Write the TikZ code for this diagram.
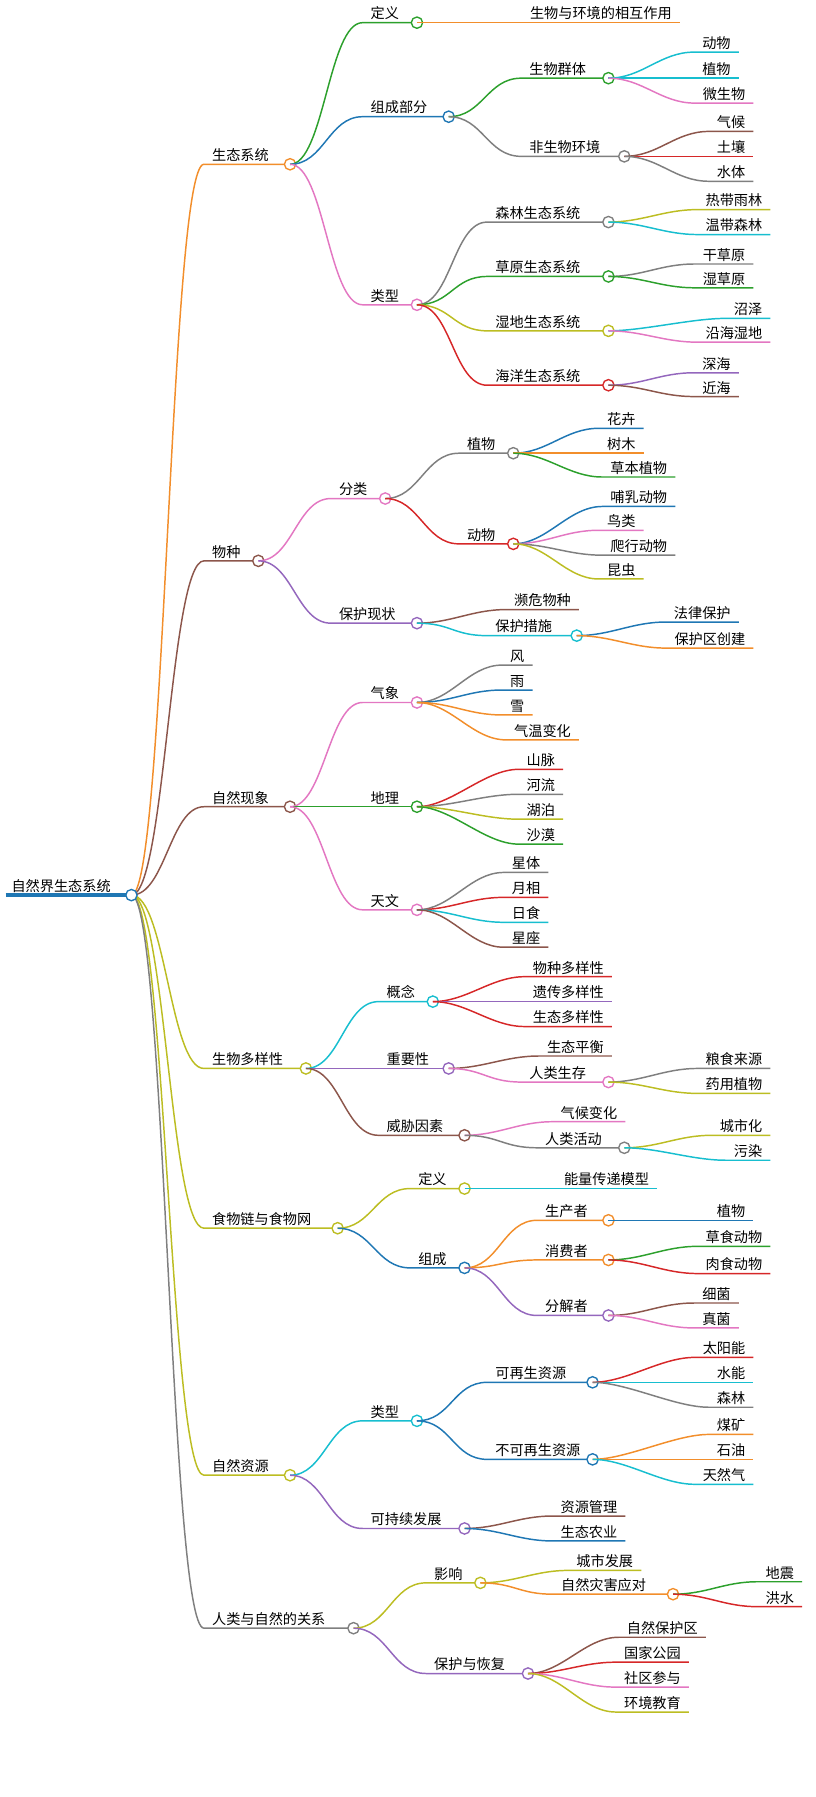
\documentclass[tikz,border=0pt]{standalone}
\usepackage{fontspec}
\setmainfont{Noto Sans CJK SC}
\definecolor{cOra}{RGB}{242,142,43}
\definecolor{cGre}{RGB}{44,160,44}
\definecolor{cBlu}{RGB}{31,119,180}
\definecolor{cPin}{RGB}{227,119,194}
\definecolor{cGra}{RGB}{127,127,127}
\definecolor{cBro}{RGB}{140,86,75}
\definecolor{cRed}{RGB}{214,39,40}
\definecolor{cOli}{RGB}{188,189,34}
\definecolor{cCya}{RGB}{23,190,207}
\definecolor{cPur}{RGB}{148,103,189}
\tikzset{
  lbl/.style={inner xsep=7pt,inner ysep=2pt,font=\fontsize{12.5}{14}\selectfont},
  edge/.style={line width=1.3pt},
  sbend/.style={out=0,in=180,distance=30pt},
  dot/.style={circle,fill=white,line width=1.2pt,minimum size=10pt,inner sep=0pt},
}
% inner node: name, parent, line start, circle x, y, colour, text
\newcommand\inode[7]{%
  \node[lbl,anchor=south west] (#1) at (#3,#5) {#7};
  \coordinate (#1c) at (#4,#5);
  \draw[edge,#6] (#2) to[sbend] (#1.south west) -- (#1c);
  \node[dot,draw=#6] at (#1c) {};}
% leaf: name, parent, line end, y, colour, text
\newcommand\leaf[6]{%
  \node[lbl,anchor=south east] (#1) at (#3,#4) {#6};
  \draw[edge,#5] (#2) to[sbend] (#1.south west) -- (#1.south east);}
\begin{document}
\begin{tikzpicture}[x=1pt,y=-1pt]
\useasboundingbox (0,0) rectangle (720,1586);
% root
\node[lbl,anchor=south west,inner xsep=5pt] (root) at (5,790) {自然界生态系统};
\coordinate (rootc) at (116,790);
\draw[line width=3pt,cBlu] (root.south west) -- (rootc);

% 生态系统
\inode{a}{rootc}{180}{256}{145}{cOra}{生态系统}
\inode{a1}{ac}{320}{368}{20}{cGre}{定义}
\leaf{a1a}{a1c}{600}{20}{cOra}{生物与环境的相互作用}
\inode{a2}{ac}{320}{396}{103}{cBlu}{组成部分}
\inode{a21}{a2c}{460}{537}{69}{cGre}{生物群体}
\leaf{a21a}{a21c}{652}{46}{cCya}{动物}
\leaf{a21b}{a21c}{652}{69}{cCya}{植物}
\leaf{a21c2}{a21c}{665}{91}{cPin}{微生物}
\inode{a22}{a2c}{460}{551}{138}{cGra}{非生物环境}
\leaf{a22a}{a22c}{665}{116}{cBro}{气候}
\leaf{a22b}{a22c}{665}{138}{cRed}{土壤}
\leaf{a22d}{a22c}{665}{160}{cGra}{水体}
\inode{a3}{ac}{320}{368}{269}{cPin}{类型}
\inode{a31}{a3c}{430}{537}{196}{cGra}{森林生态系统}
\leaf{a31a}{a31c}{680}{185}{cOli}{热带雨林}
\leaf{a31b}{a31c}{680}{207}{cCya}{温带森林}
\inode{a32}{a3c}{430}{537}{244}{cGre}{草原生态系统}
\leaf{a32a}{a32c}{665}{233}{cGra}{干草原}
\leaf{a32b}{a32c}{665}{254}{cGre}{湿草原}
\inode{a33}{a3c}{430}{537}{292}{cOli}{湿地生态系统}
\leaf{a33a}{a33c}{680}{281}{cCya}{沼泽}
\leaf{a33b}{a33c}{680}{302}{cPin}{沿海湿地}
\inode{a34}{a3c}{430}{537}{340}{cRed}{海洋生态系统}
\leaf{a34a}{a34c}{652}{329}{cPur}{深海}
\leaf{a34b}{a34c}{652}{350}{cBro}{近海}

% 物种
\inode{b}{rootc}{180}{228}{495}{cBro}{物种}
\inode{b1}{bc}{292}{340}{440}{cPin}{分类}
\inode{b11}{b1c}{405}{453}{400}{cGra}{植物}
\leaf{b11a}{b11c}{568}{378}{cBlu}{花卉}
\leaf{b11b}{b11c}{568}{400}{cOra}{树木}
\leaf{b11d}{b11c}{596}{421}{cGre}{草本植物}
\inode{b12}{b1c}{405}{453}{480}{cRed}{动物}
\leaf{b12a}{b12c}{596}{447}{cBlu}{哺乳动物}
\leaf{b12b}{b12c}{568}{468}{cPin}{鸟类}
\leaf{b12d}{b12c}{596}{490}{cGra}{爬行动物}
\leaf{b12e}{b12c}{568}{511}{cOli}{昆虫}
\inode{b2}{bc}{292}{368}{550}{cPur}{保护现状}
\leaf{b21}{b2c}{511}{538}{cBro}{濒危物种}
\inode{b22}{b2c}{430}{509}{561}{cCya}{保护措施}
\leaf{b22a}{b22c}{652}{549}{cBlu}{法律保护}
\leaf{b22b}{b22c}{665}{572}{cOra}{保护区创建}

% 自然现象
\inode{c}{rootc}{180}{256}{712}{cBro}{自然现象}
\inode{c1}{cc}{320}{368}{620}{cPin}{气象}
\leaf{c1a}{c1c}{470}{587}{cGra}{风}
\leaf{c1b}{c1c}{470}{609}{cBlu}{雨}
\leaf{c1d}{c1c}{470}{631}{cOra}{雪}
\leaf{c1e}{c1c}{511}{653}{cOra}{气温变化}
\inode{c2}{cc}{320}{368}{712}{cGre}{地理}
\leaf{c2a}{c2c}{497}{679}{cRed}{山脉}
\leaf{c2b}{c2c}{497}{701}{cGra}{河流}
\leaf{c2d}{c2c}{497}{723}{cOli}{湖泊}
\leaf{c2e}{c2c}{497}{745}{cGre}{沙漠}
\inode{c3}{cc}{320}{368}{803}{cPin}{天文}
\leaf{c3a}{c3c}{484}{770}{cGra}{星体}
\leaf{c3b}{c3c}{484}{792}{cRed}{月相}
\leaf{c3d}{c3c}{484}{814}{cCya}{日食}
\leaf{c3e}{c3c}{484}{836}{cBro}{星座}

% 生物多样性
\inode{d}{rootc}{180}{270}{943}{cOli}{生物多样性}
\inode{d1}{dc}{334}{382}{884}{cCya}{概念}
\leaf{d1a}{d1c}{540}{862}{cRed}{物种多样性}
\leaf{d1b}{d1c}{540}{884}{cPur}{遗传多样性}
\leaf{d1d}{d1c}{540}{906}{cRed}{生态多样性}
\inode{d2}{dc}{334}{396}{943}{cPur}{重要性}
\leaf{d21}{d2c}{540}{932}{cBro}{生态平衡}
\inode{d22}{d2c}{460}{537}{955}{cPin}{人类生存}
\leaf{d22a}{d22c}{680}{943}{cGra}{粮食来源}
\leaf{d22b}{d22c}{680}{965}{cOli}{药用植物}
\inode{d3}{dc}{334}{410}{1002}{cBro}{威胁因素}
\leaf{d31}{d3c}{552}{990}{cPin}{气候变化}
\inode{d32}{d3c}{474}{551}{1013}{cGra}{人类活动}
\leaf{d32a}{d32c}{680}{1002}{cOli}{城市化}
\leaf{d32b}{d32c}{680}{1024}{cCya}{污染}

% 食物链与食物网
\inode{e}{rootc}{180}{298}{1084}{cOli}{食物链与食物网}
\inode{e1}{ec}{362}{410}{1049}{cOli}{定义}
\leaf{e1a}{e1c}{580}{1049}{cCya}{能量传递模型}
\inode{e2}{ec}{362}{410}{1119}{cBlu}{组成}
\inode{e21}{e2c}{474}{537}{1077}{cOra}{生产者}
\leaf{e21a}{e21c}{665}{1077}{cBlu}{植物}
\inode{e22}{e2c}{474}{537}{1112}{cOra}{消费者}
\leaf{e22a}{e22c}{680}{1100}{cGre}{草食动物}
\leaf{e22b}{e22c}{680}{1124}{cRed}{肉食动物}
\inode{e23}{e2c}{474}{537}{1161}{cPur}{分解者}
\leaf{e23a}{e23c}{652}{1150}{cBro}{细菌}
\leaf{e23b}{e23c}{652}{1172}{cPin}{真菌}

% 自然资源
\inode{f}{rootc}{180}{256}{1302}{cOli}{自然资源}
\inode{f1}{fc}{320}{368}{1254}{cCya}{类型}
\inode{f11}{f1c}{430}{523}{1220}{cBlu}{可再生资源}
\leaf{f11a}{f11c}{665}{1198}{cRed}{太阳能}
\leaf{f11b}{f11c}{665}{1220}{cCya}{水能}
\leaf{f11d}{f11c}{665}{1242}{cGra}{森林}
\inode{f12}{f1c}{430}{523}{1288}{cBlu}{不可再生资源}
\leaf{f12a}{f12c}{665}{1266}{cOra}{煤矿}
\leaf{f12b}{f12c}{665}{1288}{cOra}{石油}
\leaf{f12d}{f12c}{665}{1310}{cCya}{天然气}
\inode{f2}{fc}{320}{410}{1349}{cPur}{可持续发展}
\leaf{f2a}{f2c}{552}{1338}{cBro}{资源管理}
\leaf{f2b}{f2c}{552}{1360}{cBlu}{生态农业}

% 人类与自然的关系
\inode{g}{rootc}{180}{312}{1437}{cGra}{人类与自然的关系}
\inode{g1}{gc}{376}{424}{1397}{cOli}{影响}
\leaf{g11}{g1c}{566}{1386}{cOli}{城市发展}
\inode{g12}{g1c}{488}{594}{1407}{cOra}{自然灾害应对}
\leaf{g12a}{g12c}{708}{1396}{cGre}{地震}
\leaf{g12b}{g12c}{708}{1418}{cRed}{洪水}
\inode{g2}{gc}{376}{466}{1477}{cPur}{保护与恢复}
\leaf{g2a}{g2c}{623}{1445}{cBro}{自然保护区}
\leaf{g2b}{g2c}{608}{1467}{cRed}{国家公园}
\leaf{g2d}{g2c}{608}{1489}{cPin}{社区参与}
\leaf{g2e}{g2c}{608}{1511}{cOli}{环境教育}

\node[dot,draw=cBlu] at (rootc) {};
\end{tikzpicture}
\end{document}
